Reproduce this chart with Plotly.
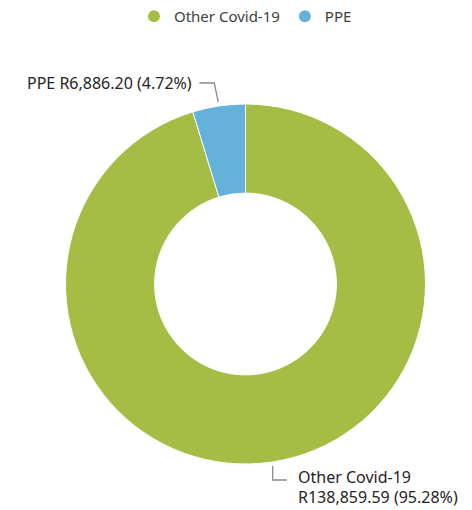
import math
import plotly.graph_objects as go

categories = ["Other Covid-19", "PPE"]
values = [138859.59, 6886.20]
colors = ["#A5BD45", "#64B2D9"]

W, H = 472, 510
cx, cy, R = 245.5, 284.0, 180.0

fig = go.Figure()
fig.add_trace(go.Pie(
    labels=categories, values=values, hole=0.505, sort=False,
    direction="clockwise", rotation=0,
    marker=dict(colors=colors, line=dict(color="white", width=1)),
    textinfo="none", hoverinfo="label+value+percent", showlegend=False,
    domain=dict(x=[(cx - R) / W, (cx + R) / W], y=[1 - (cy + R) / H, 1 - (cy - R) / H]),
))
for c, col in zip(categories, colors):
    fig.add_trace(go.Scatter(x=[None], y=[None], mode="markers", name=c,
                             marker=dict(symbol="circle", size=13, color=col)))

total = sum(values)
def px(x, y):
    return x / W, 1 - y / H

shapes, annotations = [], []
start = 0.0
font = dict(family="Noto Sans, Segoe UI, sans-serif", size=16, color="#252423")
for c, v in zip(categories, values):
    frac = v / total
    mid = (start + frac / 2) * 2 * math.pi
    start += frac
    x0 = cx + (R + 4) * math.sin(mid)
    y0 = cy - (R + 4) * math.cos(mid)
    amt = f"R{v:,.2f} ({frac*100:.2f}%)"
    if math.cos(mid) > 0:  # upper label
        ye = y0 - 19
        pts = [(x0, y0), (x0 - 4, ye), (x0 - 19, ye)]
        annotations.append(dict(x=px(x0 - 24, ye)[0], y=px(x0, ye)[1], xref="paper", yref="paper",
                                text=f"{c} {amt}", showarrow=False, xanchor="right", yanchor="middle",
                                font=font))
    else:
        ye = y0 + 14
        pts = [(x0, y0), (x0, ye), (x0 + 14, ye)]
        for i, line in enumerate([c, amt]):
            annotations.append(dict(x=px(x0 + 23, 0)[0], y=px(0, ye - 3 + 20 * i)[1],
                                    xref="paper", yref="paper", text=line, showarrow=False,
                                    xanchor="left", yanchor="middle", font=font))
    path = "M " + " L ".join(f"{px(a, b)[0]:.5f},{px(a, b)[1]:.5f}" for a, b in pts)
    shapes.append(dict(type="path", path=path, xref="paper", yref="paper",
                       line=dict(color="#8a8a8a", width=1.3)))

fig.update_layout(
    width=W, height=H, margin=dict(l=0, r=0, t=0, b=0),
    paper_bgcolor="white", plot_bgcolor="white",
    xaxis=dict(visible=False), yaxis=dict(visible=False),
    legend=dict(orientation="h", x=0.52, xanchor="center", y=1.0, yanchor="top",
                font=dict(family="Noto Sans, Segoe UI, sans-serif", size=15, color="#404040"),
                itemwidth=30, tracegroupgap=0, itemsizing="constant"),
    shapes=shapes, annotations=annotations,
)
fig.write_html("out.html", config={"displayModeBar": False},
               post_script="document.body.style.margin='0';document.body.style.padding='0';")
